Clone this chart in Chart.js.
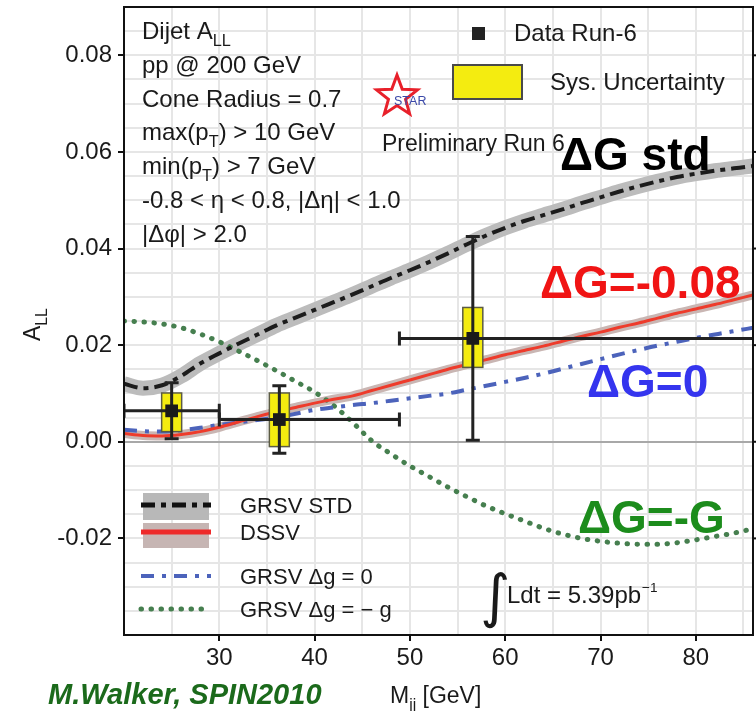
<!DOCTYPE html>
<html>
<head>
<meta charset="utf-8">
<title>Dijet A_LL vs M_jj</title>
<script src="https://cdn.jsdelivr.net/npm/chart.js@4.4.1/dist/chart.umd.min.js"></script>
<style>
  html, body { margin: 0; padding: 0; background: #fff; }
  canvas { display: block; }
</style>
</head>
<body>
<canvas id="chart" width="756" height="711"></canvas>
<script>
// theory curves, sampled on the same mass grid
const massGrid = [20, 22, 24, 26, 28, 30, 32, 34, 36, 38, 40, 42, 44, 46, 48, 50, 52,
                  54, 56, 58, 60, 62, 64, 66, 68, 70, 72, 74, 76, 78, 80, 82, 84, 86];
const grsvStd = [0.0120, 0.0111, 0.0117, 0.0136, 0.0162, 0.0183, 0.0203, 0.0222, 0.0241,
                 0.0257, 0.0273, 0.0289, 0.0305, 0.0322, 0.0339, 0.0355, 0.0372, 0.0390,
                 0.0409, 0.0427, 0.0443, 0.0457, 0.0469, 0.0481, 0.0494, 0.0506, 0.0518,
                 0.0529, 0.0539, 0.0548, 0.0555, 0.0561, 0.0566, 0.0571];
const dssv = [0.0017, 0.0013, 0.0012, 0.0015, 0.0021, 0.0030, 0.0041, 0.0052, 0.0062,
              0.0071, 0.0080, 0.0088, 0.0095, 0.0106, 0.0117, 0.0128, 0.0139, 0.0150,
              0.0160, 0.0170, 0.0180, 0.0189, 0.0198, 0.0208, 0.0218, 0.0227, 0.0237,
              0.0246, 0.0256, 0.0266, 0.0275, 0.0284, 0.0294, 0.0304];
const grsvZero = [0.0025, 0.0022, 0.0021, 0.0024, 0.0029, 0.0035, 0.0040, 0.0045, 0.0050,
                  0.0058, 0.0066, 0.0071, 0.0076, 0.0080, 0.0085, 0.0090, 0.0095, 0.0100,
                  0.0108, 0.0116, 0.0124, 0.0132, 0.0141, 0.0151, 0.0161, 0.0171, 0.0181,
                  0.0190, 0.0199, 0.0207, 0.0215, 0.0222, 0.0229, 0.0236];
const grsvMinusG = [0.0250, 0.0248, 0.0244, 0.0236, 0.0223, 0.0207, 0.0188, 0.0168, 0.0147,
                    0.0125, 0.0103, 0.0075, 0.0040, 0.0002, -0.0025, -0.0050, -0.0072, -0.0094,
                    -0.0114, -0.0133, -0.0149, -0.0164, -0.0179, -0.0191, -0.0200, -0.0206, -0.0210,
                    -0.0212, -0.0212, -0.0209, -0.0203, -0.0196, -0.0189, -0.0180];

// measured points
const dataMass = [25.0, 36.3, 56.6];
const dataAll = [0.0064, 0.0046, 0.0214];
const statErr = [0.0058, 0.0070, 0.0211];
const binLow = [20, 30, 48.9];
const binHigh = [30, 48.9, 100];
const sysLow = [0.0021, -0.0010, 0.0154];
const sysHigh = [0.0101, 0.0101, 0.0278];

const xTickLabels = [30, 40, 50, 60, 70, 80];
const yTickLabels = [-0.02, 0, 0.02, 0.04, 0.06, 0.08];

const FONT = '"Liberation Sans", Arial, sans-serif';
const SYS_HALF = 1.05;   // GeV, half width of sys boxes
const CAP = 7;

const toXY = ys => massGrid.map((m, i) => ({ x: m, y: ys[i] }));
const isXMajor = v => xTickLabels.some(t => Math.abs(t - v) < 1e-6);
const isYMajor = v => yTickLabels.some(t => Math.abs(t - v) < 1e-9);

const DASH_STD = [14, 6, 5, 6];
const DASH_ZERO = [13, 8, 4, 8];
const DASH_DOT = [0.5, 9.5];

function curve(data, color, width, dash, order, cap) {
    return {
        type: "line",
        data: data,
        borderColor: color,
        borderWidth: width,
        borderDash: dash || [],
        borderCapStyle: cap || "butt",
        pointRadius: 0,
        fill: false,
        cubicInterpolationMode: "monotone",
        clip: 0,
        order: order,
    };
}

// rich text: parts = [[text, mode]], mode '' | 'sub' | 'sup'
function drawRich(ctx, x, y, parts, size, color, weight) {
    let cx = x;
    ctx.fillStyle = color;
    ctx.textBaseline = "alphabetic";
    ctx.textAlign = "left";
    for (const [t, mode] of parts) {
        const s = mode ? size * 0.68 : size;
        ctx.font = `${weight || ""} ${s}px ${FONT}`;
        const dy = mode === "sub" ? size * 0.3 : mode === "sup" ? -size * 0.42 : 0;
        ctx.fillText(t, cx, y + dy);
        cx += ctx.measureText(t).width;
    }
    return cx;
}

const errorBars = {
    id: "errorBars",
    beforeDatasetDraw(chart, args) {
        if (args.index !== 6) return;
        const { ctx, chartArea: a, scales: { x, y } } = chart;
        ctx.save();
        ctx.beginPath();
        ctx.rect(a.left, a.top, a.right - a.left, a.bottom - a.top);
        ctx.clip();
        // systematic boxes
        dataMass.forEach((m, i) => {
            const x0 = x.getPixelForValue(m - SYS_HALF);
            const x1 = x.getPixelForValue(m + SYS_HALF);
            const y0 = y.getPixelForValue(sysHigh[i]);
            const y1 = y.getPixelForValue(sysLow[i]);
            ctx.fillStyle = "#f4ec10";
            ctx.fillRect(x0, y0, x1 - x0, y1 - y0);
            ctx.strokeStyle = "#5b5b45";
            ctx.lineWidth = 1.5;
            ctx.strokeRect(x0, y0, x1 - x0, y1 - y0);
        });
        // stat error bars + bin widths
        ctx.strokeStyle = "#222";
        ctx.lineWidth = 3;
        dataMass.forEach((m, i) => {
            const px = x.getPixelForValue(m);
            const py = y.getPixelForValue(dataAll[i]);
            const top = y.getPixelForValue(dataAll[i] + statErr[i]);
            const bot = y.getPixelForValue(dataAll[i] - statErr[i]);
            const l = x.getPixelForValue(binLow[i]);
            const r = x.getPixelForValue(binHigh[i]);
            ctx.beginPath();
            ctx.moveTo(px, top); ctx.lineTo(px, bot);
            ctx.moveTo(px - CAP, top); ctx.lineTo(px + CAP, top);
            ctx.moveTo(px - CAP, bot); ctx.lineTo(px + CAP, bot);
            ctx.moveTo(l, py); ctx.lineTo(r, py);
            ctx.moveTo(l, py - CAP); ctx.lineTo(l, py + CAP);
            ctx.moveTo(r, py - CAP); ctx.lineTo(r, py + CAP);
            ctx.stroke();
        });
        ctx.restore();
    },
};

function legendLine(ctx, y, color, width, dash, cap) {
    ctx.save();
    ctx.strokeStyle = color;
    ctx.lineWidth = width;
    ctx.setLineDash(dash);
    ctx.lineCap = cap || "butt";
    ctx.beginPath();
    ctx.moveTo(141, y);
    ctx.lineTo(211, y);
    ctx.stroke();
    ctx.restore();
}

function drawStar(ctx, cx, cy, R, r) {
    ctx.save();
    ctx.beginPath();
    for (let k = 0; k < 10; k++) {
        const ang = -Math.PI / 2 + k * Math.PI / 5;
        const rad = k % 2 === 0 ? R : r;
        const px = cx + rad * Math.cos(ang);
        const py = cy + rad * Math.sin(ang);
        if (k === 0) ctx.moveTo(px, py); else ctx.lineTo(px, py);
    }
    ctx.closePath();
    ctx.strokeStyle = "#e8202a";
    ctx.lineWidth = 3;
    ctx.stroke();
    ctx.restore();
}

const overlay = {
    id: "overlay",
    afterDraw(chart) {
        const { ctx, chartArea: a, scales: { y } } = chart;
        ctx.save();
        // frame
        ctx.strokeStyle = "#111";
        ctx.lineWidth = 2;
        ctx.strokeRect(a.left, a.top, a.right - a.left, a.bottom - a.top);
        yTickLabels.forEach(v => {
            const py = y.getPixelForValue(v);
            ctx.beginPath();
            ctx.moveTo(a.right, py);
            ctx.lineTo(a.right + 6, py);
            ctx.stroke();
        });

        // cuts text, top left
        const lines = [
            [["Dijet A", ""], ["LL", "sub"]],
            [["pp @ 200 GeV", ""]],
            [["Cone Radius = 0.7", ""]],
            [["max(p", ""], ["T", "sub"], [") > 10 GeV", ""]],
            [["min(p", ""], ["T", "sub"], [") > 7 GeV", ""]],
            [["-0.8 < \u03b7 < 0.8, |\u0394\u03b7| < 1.0", ""]],
            [["|\u0394\u03c6| > 2.0", ""]],
        ];
        lines.forEach((parts, i) => drawRich(ctx, 142, 39 + i * 33.75, parts, 24, "#1a1a1a"));

        // top right legend
        ctx.fillStyle = "#222";
        ctx.fillRect(472, 27, 13, 13);
        drawRich(ctx, 514, 41, [["Data Run-6", ""]], 24, "#1a1a1a");
        ctx.fillStyle = "#f4ec10";
        ctx.fillRect(453, 65, 69, 34);
        ctx.strokeStyle = "#4a4a4a";
        ctx.lineWidth = 2;
        ctx.strokeRect(453, 65, 69, 34);
        drawRich(ctx, 550, 90, [["Sys. Uncertainty", ""]], 24, "#1a1a1a");

        // STAR logo
        drawStar(ctx, 397, 96.5, 21.5, 9);
        drawRich(ctx, 394, 105, [["STAR", ""]], 12.5, "#3a48a8");
        drawRich(ctx, 382, 151, [["Preliminary Run 6", ""]], 23, "#1a1a1a");

        // big curve labels
        drawRich(ctx, 560, 170, [["\u0394G std", ""]], 46, "#000", "bold");
        drawRich(ctx, 540, 298, [["\u0394G=-0.08", ""]], 46, "#f01414", "bold");
        drawRich(ctx, 587, 397, [["\u0394G=0", ""]], 46, "#3535ee", "bold");
        drawRich(ctx, 578, 533, [["\u0394G=-G", ""]], 46, "#1c8c1c", "bold");

        // bottom-left legend
        ctx.fillStyle = "#b8b8b8";
        ctx.fillRect(143, 493, 66, 27);
        ctx.fillStyle = "#c6b5b3";
        ctx.fillRect(143, 523, 66, 25);
        legendLine(ctx, 505, "#111", 5, DASH_STD);
        legendLine(ctx, 532, "#ee2a2a", 5, []);
        legendLine(ctx, 576, "#4c63bb", 4, DASH_ZERO);
        legendLine(ctx, 609, "#467f4f", 5, DASH_DOT, "round");
        drawRich(ctx, 240, 513, [["GRSV STD", ""]], 22, "#1a1a1a");
        drawRich(ctx, 240, 540, [["DSSV", ""]], 22, "#1a1a1a");
        drawRich(ctx, 240, 584, [["GRSV \u0394g = 0", ""]], 22, "#1a1a1a");
        drawRich(ctx, 240, 617, [["GRSV \u0394g = \u2212 g", ""]], 22, "#1a1a1a");

        // luminosity
        ctx.font = `58px "DejaVu Sans", ${FONT}`;
        ctx.fillStyle = "#1a1a1a";
        ctx.textBaseline = "alphabetic";
        ctx.fillText("\u222b", 480, 616);
        const end = drawRich(ctx, 507, 603, [["Ldt = 5.39pb", ""]], 24, "#1a1a1a");
        drawRich(ctx, end + 1, 600, [["\u22121", "sup"]], 20, "#1a1a1a");

        // axis titles
        drawRich(ctx, 390, 703, [["M", ""], ["jj", "sub"], [" [GeV]", ""]], 23, "#1a1a1a");
        drawRich(ctx, 48, 704, [["M.Walker, SPIN2010", ""]], 29, "#1b6a1b", "italic bold");
        ctx.save();
        ctx.translate(40, 341);
        ctx.rotate(-Math.PI / 2);
        drawRich(ctx, 0, 0, [["A", ""], ["LL", "sub"]], 23, "#1a1a1a");
        ctx.restore();

        ctx.restore();
    },
};

new Chart(document.getElementById("chart"), {
    type: "line",
    data: {
        datasets: [
            curve(toXY(grsvStd), "#bcbcbc", 15, [], 10),
            curve(toXY(dssv), "#c9b6b3", 9, [], 9),
            curve(toXY(grsvMinusG), "#467f4f", 5, DASH_DOT, 6, "round"),
            curve(toXY(grsvZero), "#4c63bb", 4, DASH_ZERO, 5),
            curve(toXY(dssv), "#ee3b2b", 3, [], 4),
            curve(toXY(grsvStd), "#1c1c1c", 4, DASH_STD, 3),
            {
                type: "scatter",
                data: dataMass.map((m, i) => ({ x: m, y: dataAll[i] })),
                pointStyle: "rect",
                pointRadius: 9,
                backgroundColor: "#1a1a1a",
                borderColor: "#1a1a1a",
                borderWidth: 0,
                order: 0,
            },
        ],
    },
    options: {
        responsive: false,
        animation: false,
        layout: { autoPadding: false, padding: { top: 7, right: 3, left: 0, bottom: 0 } },
        plugins: { legend: { display: false }, tooltip: { enabled: false } },
        scales: {
            x: {
                type: "linear",
                min: 20,
                max: 86,
                afterFit: s => {
                    s.height = 76;
                    s.paddingLeft = 0;
                    s.paddingRight = 0;
                },
                border: { display: false },
                grid: {
                    color: "#e6e6e6",
                    lineWidth: 2,
                    tickLength: 6,
                    tickWidth: 2,
                    tickColor: c => (isXMajor(c.tick.value) ? "#111" : "rgba(0,0,0,0)"),
                },
                ticks: {
                    stepSize: 5,
                    autoSkip: false,
                    maxRotation: 0,
                    includeBounds: false,
                    padding: 3,
                    color: "#1a1a1a",
                    font: { family: FONT, size: 24 },
                    callback: v => (isXMajor(v) ? String(Math.round(v)) : ""),
                },
            },
            y: {
                type: "linear",
                min: -0.04,
                max: 0.09,
                afterFit: s => {
                    s.width = 124;
                    s.paddingTop = 0;
                    s.paddingBottom = 0;
                },
                border: { display: false },
                grid: {
                    color: c => (Math.abs(c.tick.value) < 1e-9 ? "#a8a8a8" : "#e6e6e6"),
                    lineWidth: 2,
                    tickLength: 6,
                    tickWidth: 2,
                    tickColor: c => (isYMajor(c.tick.value) ? "#111" : "rgba(0,0,0,0)"),
                },
                ticks: {
                    stepSize: 0.005,
                    maxTicksLimit: 100,
                    autoSkip: false,
                    includeBounds: false,
                    padding: 6,
                    color: "#1a1a1a",
                    font: { family: FONT, size: 24 },
                    callback: v => (isYMajor(v) ? v.toFixed(2) : ""),
                },
            },
        },
    },
    plugins: [errorBars, overlay],
});
</script>
</body>
</html>
